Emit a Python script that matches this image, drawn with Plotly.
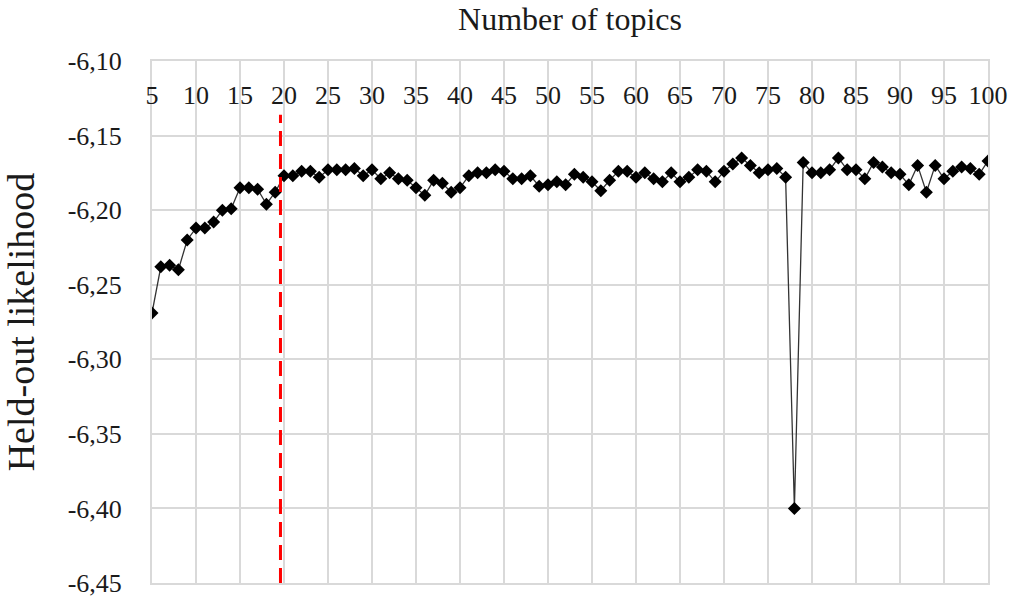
import plotly.graph_objects as go

topics = list(range(5, 101))
likelihood = [
    -6.269, -6.238, -6.237, -6.240, -6.220, -6.212, -6.212, -6.208, -6.200, -6.199,  # 5-14
    -6.185, -6.185, -6.186, -6.196, -6.188, -6.177, -6.177, -6.174, -6.174, -6.178,  # 15-24
    -6.173, -6.173, -6.173, -6.172, -6.177, -6.173, -6.179, -6.175, -6.179, -6.180,  # 25-34
    -6.185, -6.190, -6.180, -6.182, -6.188, -6.185, -6.177, -6.175, -6.175, -6.173,  # 35-44
    -6.174, -6.179, -6.179, -6.177, -6.184, -6.183, -6.181, -6.183, -6.176, -6.178,  # 45-54
    -6.181, -6.187, -6.180, -6.174, -6.174, -6.178, -6.175, -6.179, -6.181, -6.175,  # 55-64
    -6.181, -6.178, -6.173, -6.174, -6.181, -6.174, -6.169, -6.165, -6.170, -6.175,  # 65-74
    -6.173, -6.172, -6.178, -6.400, -6.168, -6.175, -6.175, -6.173, -6.165, -6.173,  # 75-84
    -6.173, -6.179, -6.168, -6.171, -6.175, -6.176, -6.183, -6.170, -6.188, -6.170,  # 85-94
    -6.179, -6.174, -6.171, -6.172, -6.176, -6.167,                                  # 95-100
]
x_ticks = list(range(5, 101, 5))
y_ticks = [-6.45, -6.40, -6.35, -6.30, -6.25, -6.20, -6.15, -6.10]
y_tick_labels = ["-6,45", "-6,40", "-6,35", "-6,30", "-6,25", "-6,20", "-6,15", "-6,10"]
selected_k = 19.6

FONT = "Liberation Serif, Times New Roman, serif"
GRID = "#d9d9d9"
TXT = "#1a1a1a"

fig = go.Figure()
fig.add_trace(go.Scatter(
    x=topics, y=likelihood, mode="lines+markers",
    line=dict(color="#333333", width=1.3),
    marker=dict(symbol="diamond", size=10, color="#000000"),
    showlegend=False,
))

fig.add_shape(type="line", xref="x", yref="paper",
              x0=selected_k, x1=selected_k, y0=0, y1=0.897,
              line=dict(color="#ff0000", width=3, dash="15px,8px"))

fig.update_layout(
    width=1016, height=601,
    margin=dict(l=152, r=28, t=61, b=18, autoexpand=False),
    paper_bgcolor="white", plot_bgcolor="white",
    font=dict(family=FONT, color=TXT),
    xaxis=dict(
        side="top", range=[5, 100], tickvals=x_ticks,
        ticklabelposition="inside", ticks="", ticklabelstandoff=27,
        ticklabeloverflow="allow", automargin=False,
        tickfont=dict(size=26, family=FONT, color=TXT),
        showgrid=True, gridcolor=GRID, gridwidth=2,
        showline=True, linecolor=GRID, linewidth=2, mirror=True,
        zeroline=False,
        title=dict(text="Number of topics", font=dict(size=32, family=FONT, color=TXT), standoff=41),
    ),
    yaxis=dict(
        range=[-6.45, -6.10], tickvals=y_ticks, ticktext=y_tick_labels,
        ticks="", ticklabelstandoff=23, ticklabeloverflow="allow", automargin=False,
        tickfont=dict(size=26, family=FONT, color=TXT),
        showgrid=True, gridcolor=GRID, gridwidth=2,
        showline=True, linecolor=GRID, linewidth=2, mirror=True,
        zeroline=False,
        title=dict(text="Held-out likelihood", font=dict(size=38, family=FONT, color=TXT), standoff=24),
    ),
)

# remove the page's default 8px body margin so the figure fills the window exactly
fig.write_html("out.html", config={"displayModeBar": False},
               post_script="document.body.style.margin='0px';")
